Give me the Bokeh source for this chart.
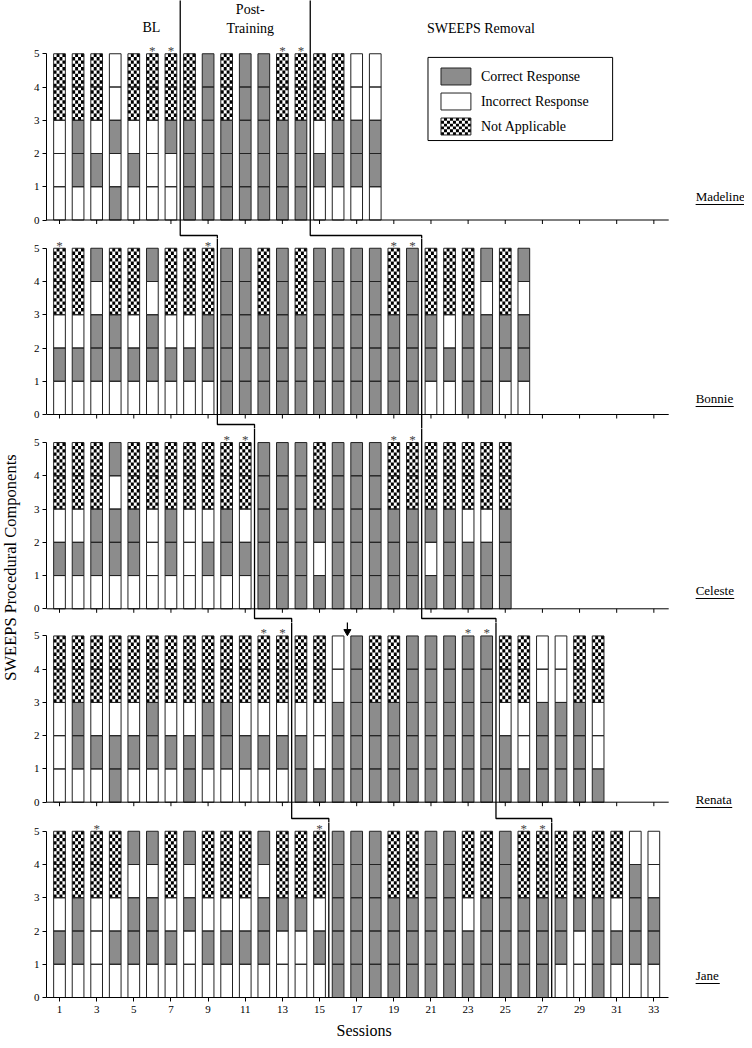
from bokeh.plotting import figure
from bokeh.layouts import column, row
from bokeh.models import FixedTicker
from bokeh.core.properties import value
from bokeh.embed import file_html
from bokeh.resources import INLINE

# ---------------- data ----------------
# each string = one session, the 5 procedural components from bottom to top
# C = correct response, I = incorrect response, N = not applicable
participants = ["Madeline", "Bonnie", "Celeste", "Renata", "Jane"]

madeline = ["IIINN", "ICCNN", "ICINN", "CICII", "ICINN", "IIINN", "IICNN", "CCCNN", "CCCCC",
            "CCCNN", "CCCCC", "CCCCC", "CCCNN", "CCCNN", "ICINN", "ICCNN", "ICCII", "ICCII"]
bonnie = ["ICINN", "ICINN", "ICCIC", "ICCNN", "ICINN", "ICCIC", "ICINN", "ICINN", "ICCNN",
          "CCCCC", "CCCCC", "CCCNN", "CCCCC", "CCCNN", "CCCCC", "CCCCC", "CCCCC", "CCCCC",
          "CCCNN", "CCCCC", "ICCNN", "ICINN", "CCCNN", "CCCIC", "ICCNN", "ICCIC"]
celeste = ["ICINN", "ICINN", "ICCNN", "ICCIC", "ICCNN", "IIINN", "ICCNN", "IIINN", "ICINN",
           "ICCNN", "ICINN", "CCCCC", "CCCCC", "CCCCC", "CICNN", "CCCCC", "CCCCC", "CCCCC",
           "CCCNN", "CCCNN", "CICNN", "CCCNN", "CCINN", "CCINN", "CCCNN"]
renata = ["IIINN", "ICCNN", "ICINN", "CCINN", "ICINN", "ICCNN", "ICINN", "CCINN", "ICCNN",
          "ICCNN", "ICINN", "ICINN", "ICINN", "CCINN", "CIINN", "CCCII", "CCCCC", "CCCNN",
          "CCCNN", "CCCCC", "CCCCC", "CCCCC", "CCCCC", "CCCCC", "CCINN", "CIINN", "CCCII",
          "CCCII", "CCCNN", "CIINN"]
jane = ["ICINN", "ICCNN", "IIINN", "ICINN", "ICCIC", "ICCIC", "ICINN", "IICIC", "ICINN",
        "ICINN", "ICINN", "ICCIC", "IICNN", "IICNN", "ICINN", "CCCCC", "CCCCC", "CCCCC",
        "CCCNN", "CCCNN", "CCCCC", "CCCCC", "CCINN", "CCCNN", "CCCCC", "CCCNN", "CCCNN",
        "ICCNN", "IICNN", "CCCNN", "ICINN", "ICCCI", "ICCII"]
series = [madeline, bonnie, celeste, renata, jane]

last_baseline = [7, 9, 11, 13, 15]        # last BL session per participant
last_training = [14, 20, 20, 24, 27]      # last post-training session per participant
asterisk_sessions = [[6, 7, 13, 14], [1, 9, 19, 20], [10, 11, 19, 20], [12, 13, 23, 24], [3, 15, 26, 27]]
arrow_session = 16.5                      # arrow in Renata's panel
session_ticks = list(range(1, 34, 2))
y_ticks = [0, 1, 2, 3, 4, 5]
legend_labels = ["Correct Response", "Incorrect Response", "Not Applicable"]
legend_codes = ["C", "I", "N"]
phase_titles = ["BL", "Post-", "Training", "SWEEPS Removal"]
x_title = "Sessions"
y_title = "SWEEPS Procedural Components"

# ---------------- style / layout ----------------
FONT = value("Liberation Serif")
GRAY = "#8c8c8c"
FILL = {"C": GRAY, "I": "white", "N": "white"}
U = 33.25          # px per component unit
PXS = 18.6         # px per session
X0 = 0.3
LEFT_W = 30
MAIN_W = 714
BORDER_L = 15
X1 = X0 + (MAIN_W - BORDER_L) / PXS
AXIS_END = 33.8
BAR_W = 0.63
BOTTOM_BORDER = 20
SESS_H = 23
# px: frame top, frame bottom, zero line, connector level
panel_px = [(0, 238, 219.5, 235), (238, 428, 414, 424), (428, 622, 608.3, 618),
            (622, 822, 801.7, 818), (822, 997, 997, None)]
name_underline_px = [204, 406, 598, 807, 983]
NAME_X = 35.25
name_len = [2.65, 2.05, 2.08, 1.97, 1.3]


def checker_cells(xc, y0, w, h, ncol, nrow):
    xs, ys = [], []
    cw, ch = w / ncol, h / nrow
    for c in range(ncol):
        for r in range(nrow):
            if (c + r) % 2 == 0:
                xs.append(xc - w / 2 + (c + 0.5) * cw)
                ys.append(y0 + (r + 0.5) * ch)
    return xs, ys, cw, ch


def clean(p):
    p.grid.visible = False
    p.outline_line_color = None
    p.background_fill_color = "white"
    p.border_fill_color = "white"


figs = []
for i, data in enumerate(series):
    top, bot, zero, conn = panel_px[i]
    last = i == 4
    y_lo = -(bot - zero) / U
    y_hi = (zero - top) / U
    h = bot - top + (BOTTOM_BORDER if last else 0)
    p = figure(width=MAIN_W, height=h, x_range=(X0, X1), y_range=(y_lo, y_hi),
               output_backend="svg", toolbar_location=None, title=None,
               min_border_left=BORDER_L, min_border_right=0, min_border_top=0,
               min_border_bottom=BOTTOM_BORDER if last else 0,
               x_axis_location="below" if last else None)
    clean(p)

    yax = p.yaxis[0]
    yax.ticker = FixedTicker(ticks=y_ticks)
    yax.bounds = (0, 5)
    yax.major_tick_out = 4
    yax.major_tick_in = 0
    yax.minor_tick_line_color = None
    yax.axis_line_color = "black"
    yax.major_tick_line_color = "black"
    yax.major_label_text_font = "Liberation Serif"
    yax.major_label_text_font_size = "11px"
    yax.major_label_text_color = "black"
    yax.major_label_standoff = 3

    # bars
    bx, by, bf = [], [], []
    cx, cy = [], []
    cw = ch = None
    for s, bar in enumerate(data, start=1):
        for k, code in enumerate(bar):
            bx.append(s)
            by.append(k + 0.5)
            bf.append(FILL[code])
            if code == "N":
                xs, ys, cw, ch = checker_cells(s, k, BAR_W, 1.0, 4, 10)
                cx += xs
                cy += ys
    p.rect(x=bx, y=by, width=BAR_W, height=1, fill_color=bf, line_color=None)
    if cx:
        p.rect(x=cx, y=cy, width=cw, height=ch, fill_color="black", line_color=None)
    p.rect(x=bx, y=by, width=BAR_W, height=1, fill_color=None, line_color="#222222", line_width=1)

    # asterisks
    ast = asterisk_sessions[i]
    p.text(x=ast, y=[5 + 3 / U] * len(ast), text=["*"] * len(ast), text_font=FONT,
           text_font_size="13px", text_align="center", text_baseline="middle",
           text_color="#444444")

    # x axis
    if not last:
        p.line([X0, AXIS_END], [0, 0], line_color="black", line_width=1)
        p.segment(x0=session_ticks, y0=[0] * len(session_ticks), x1=session_ticks,
                  y1=[-4 / U] * len(session_ticks), line_color="black", line_width=1)
    else:
        xax = p.xaxis[0]
        xax.ticker = FixedTicker(ticks=session_ticks)
        xax.bounds = (X0, AXIS_END)
        xax.major_tick_out = 4
        xax.major_tick_in = 0
        xax.minor_tick_line_color = None
        xax.axis_line_color = "black"
        xax.major_tick_line_color = "black"
        xax.major_label_text_font = "Liberation Serif"
        xax.major_label_text_font_size = "11px"
        xax.major_label_text_color = "black"
        xax.major_label_standoff = 4

    # phase change lines
    b = [last_baseline[i] + 0.5, last_training[i] + 0.5]
    if not last:
        nb = [last_baseline[i + 1] + 0.5, last_training[i + 1] + 0.5]
        c = -(conn - zero) / U
        for k in range(2):
            p.line([b[k], b[k], nb[k], nb[k]], [y_hi + 1, c, c, y_lo - 1],
                   line_color="black", line_width=1.3)
    else:
        for k in range(2):
            p.line([b[k], b[k]], [y_hi + 1, 0], line_color="black", line_width=1.3)

    # participant name, underlined
    uy = -(name_underline_px[i] - zero) / U
    p.text(x=[NAME_X], y=[uy + 1 / U], text=[participants[i]], text_font=FONT,
           text_font_size="13px", text_align="left", text_baseline="bottom",
           text_color="black")
    p.line([NAME_X, NAME_X + name_len[i]], [uy, uy], line_color="black", line_width=1)

    if i == 3:
        p.segment(x0=[arrow_session], y0=[y_hi + 0.2], x1=[arrow_session], y1=[5.2],
                  line_color="black", line_width=1.2)
        p.scatter(x=[arrow_session], y=[5.13], marker="inverted_triangle", size=7,
                  fill_color="black", line_color="black")

    if i == 0:
        # phase titles
        p.text(x=[5.95, 11.27, 11.27, 23.69], y=[5.79, 6.33, 5.76, 5.76], text=phase_titles,
               text_font=FONT, text_font_size="14px", text_align="center",
               text_baseline="middle", text_color="black")
        # legend
        LX0, LX1, LY0, LY1 = 20.84, 30.78, 2.39, 4.89
        p.rect(x=[(LX0 + LX1) / 2], y=[(LY0 + LY1) / 2], width=LX1 - LX0, height=LY1 - LY0,
               fill_color="white", line_color="black", line_width=1)
        sw_x0, sw_x1 = 21.54, 23.15
        sw_h = 0.51
        rows_y = [4.316, 3.564, 2.812]
        swx = (sw_x0 + sw_x1) / 2
        p.rect(x=[swx] * 3, y=rows_y, width=sw_x1 - sw_x0, height=sw_h,
               fill_color=[FILL[c] for c in legend_codes], line_color=None)
        lx, ly, lcw, lch = checker_cells(swx, rows_y[2] - sw_h / 2, sw_x1 - sw_x0, sw_h, 10, 6)
        p.rect(x=lx, y=ly, width=lcw, height=lch, fill_color="black", line_color=None)
        p.rect(x=[swx] * 3, y=rows_y, width=sw_x1 - sw_x0, height=sw_h,
               fill_color=None, line_color="#222222", line_width=1)
        p.text(x=[23.69] * 3, y=rows_y, text=legend_labels, text_font=FONT,
               text_font_size="14px", text_align="left", text_baseline="middle",
               text_color="black")
    figs.append(p)

# strip under the last panel with the x-axis title
sess = figure(width=MAIN_W, height=SESS_H, x_range=(X0, X1), y_range=(0, 1),
              output_backend="svg", toolbar_location=None, title=None,
              x_axis_location=None, y_axis_location=None,
              min_border_left=BORDER_L, min_border_right=0, min_border_top=0, min_border_bottom=0)
clean(sess)
sess.text(x=[17.4], y=[0.45], text=[x_title], text_font=FONT, text_font_size="16px",
          text_align="center", text_baseline="middle", text_color="black")
figs.append(sess)

# left strip with the shared y-axis title
total_h = sum(f.height for f in figs)
left = figure(width=LEFT_W, height=total_h, x_range=(0, LEFT_W), y_range=(0, total_h),
              output_backend="svg", toolbar_location=None, title=None,
              x_axis_location=None, y_axis_location=None, min_border=0)
clean(left)
left.text(x=[10], y=[total_h - 567], text=[y_title],
          angle=1.5707963, text_font=FONT, text_font_size="16.5px", text_align="center",
          text_baseline="middle", text_color="black")

layout = row(left, column(*figs, spacing=0), spacing=0)
open("out.html", "w").write(file_html(layout, INLINE))
